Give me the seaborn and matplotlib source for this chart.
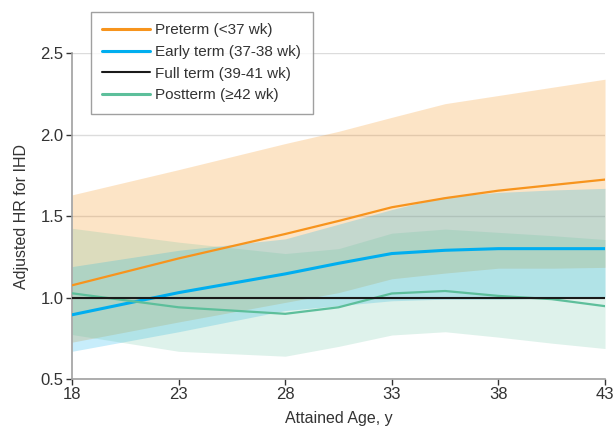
import numpy as np
import pandas as pd
import seaborn as sns
import matplotlib.pyplot as plt

# values
ages = [18, 23, 28, 30.5, 33, 35.5, 38, 40.5, 43]

preterm = [1.075, 1.24, 1.39, 1.47, 1.554, 1.61, 1.656, 1.69, 1.724]
preterm_lo = [0.726, 0.85, 0.97, 1.03, 1.115, 1.15, 1.18, 1.18, 1.185]
preterm_hi = [1.63, 1.785, 1.945, 2.02, 2.106, 2.19, 2.24, 2.29, 2.34]

early = [0.894, 1.03, 1.145, 1.21, 1.27, 1.29, 1.30, 1.30, 1.30]
early_lo = [0.67, 0.79, 0.92, 0.95, 0.98, 0.99, 0.99, 0.995, 1.0]
early_hi = [1.19, 1.29, 1.36, 1.45, 1.54, 1.62, 1.645, 1.66, 1.67]

full = [1.0] * len(ages)

post = [1.026, 0.94, 0.90, 0.94, 1.025, 1.04, 1.01, 0.99, 0.947]
post_lo = [0.773, 0.67, 0.64, 0.70, 0.77, 0.79, 0.757, 0.72, 0.687]
post_hi = [1.425, 1.34, 1.27, 1.30, 1.395, 1.42, 1.40, 1.38, 1.356]

labels = ['Preterm (<37 wk)', 'Early term (37-38 wk)',
          'Full term (39-41 wk)', 'Postterm (≥42 wk)']
colors = ['#F7941D', '#00AEEF', '#1a1a1a', '#5DBF9B']

df = pd.DataFrame({
    'age': ages * 4,
    'hr': preterm + early + full + post,
    'group': np.repeat(labels, len(ages)),
})

sns.set_style('white')
plt.rcParams['font.family'] = ['Liberation Sans Narrow', 'Liberation Sans', 'DejaVu Sans']

fig = plt.figure(figsize=(6.13, 4.32), dpi=100)
ax = fig.add_axes([0.1175, 0.1227, 0.8695, 0.7543])

# confidence bands
ax.fill_between(ages, preterm_lo, preterm_hi, color=colors[0], alpha=0.25, lw=0, zorder=1)
ax.fill_between(ages, early_lo, early_hi, color=colors[1], alpha=0.22, lw=0, zorder=1)
ax.fill_between(ages, post_lo, post_hi, color=colors[3], alpha=0.2, lw=0, zorder=1)

sns.lineplot(data=df, x='age', y='hr', hue='group', palette=dict(zip(labels, colors)),
             ax=ax, legend=False, zorder=3)
widths = [1.6, 2.2, 1.5, 1.6]
for line, w in zip(ax.lines, widths):
    line.set_linewidth(w)
ax.lines[2].set_zorder(4)

ax.set_xlim(18, 43)
ax.set_ylim(0.5, 2.5)
ax.set_xticks([18, 23, 28, 33, 38, 43])
ax.set_yticks([0.5, 1.0, 1.5, 2.0, 2.5])
ax.set_yticklabels(['0.5', '1.0', '1.5', '2.0', '2.5'])
ax.yaxis.grid(True, color='#dcdcdc', lw=1)
ax.set_axisbelow(True)

for s in ['top', 'right']:
    ax.spines[s].set_visible(False)
for s in ['left', 'bottom']:
    ax.spines[s].set_color('#a0a0a0')
    ax.spines[s].set_linewidth(1.2)
ax.tick_params(axis='both', direction='out', length=4, width=1, color='#333333',
               labelsize=12, labelcolor='#333333', pad=2)
ax.tick_params(axis='both', which='both', left=True, bottom=True)

ax.set_xlabel('Attained Age, y', fontsize=11.5, color='#333333', labelpad=6)
ax.set_ylabel('Adjusted HR for IHD', fontsize=11.5, color='#333333', labelpad=8)

handles = [plt.Line2D([], [], color=c, lw=w) for c, w in zip(colors, [2.2, 2.2, 1.5, 2.2])]
leg = ax.legend(handles, labels, loc='upper left', bbox_to_anchor=(91 / 613, 1 - 12 / 432),
                bbox_transform=fig.transFigure, borderaxespad=0, fontsize=11, frameon=True,
                fancybox=False, handlelength=3.1, handletextpad=0.35, labelspacing=0.5,
                borderpad=0.75, labelcolor='#333333')
leg.get_frame().set_edgecolor('#888888')
leg.get_frame().set_linewidth(1)
leg.set_zorder(5)

fig.savefig('out.png', dpi=100)
